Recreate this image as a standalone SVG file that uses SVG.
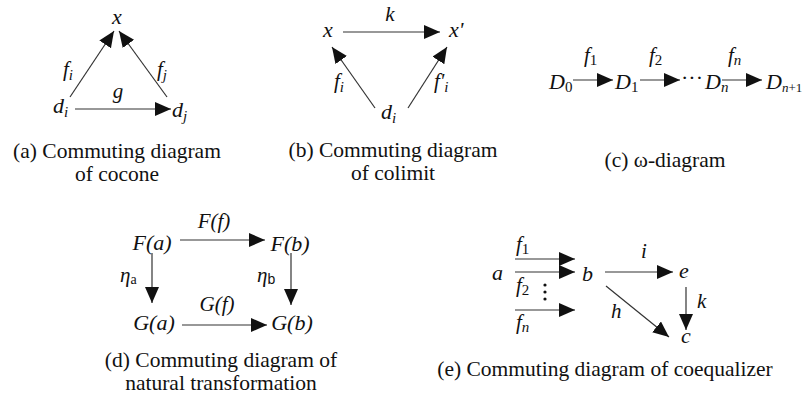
<svg xmlns="http://www.w3.org/2000/svg" width="803" height="394" viewBox="0 0 803 394">
<defs>
<marker id="ah" markerUnits="userSpaceOnUse" markerWidth="17" markerHeight="15" refX="16" refY="7" orient="auto">
<path d="M0,0 L16,7 L0,14 z" fill="#111"/>
</marker>
<style>
.m{font-family:"Liberation Serif","Times New Roman",serif;font-style:italic;font-size:22px;fill:#111}
.l{font-family:"Liberation Serif","Times New Roman",serif;font-style:italic;font-size:21px;fill:#111}
.u{font-style:normal}
.c{text-anchor:middle}
.cap{font-family:"Liberation Serif","Times New Roman",serif;font-size:21.5px;fill:#111;text-anchor:middle}
.a{stroke:#333;stroke-width:1.2;fill:none;marker-end:url(#ah)}
</style>
</defs>
<rect width="803" height="394" fill="#fff"/>

<!-- (a) cocone -->
<g id="a-x"><text class="m c" x="117" y="24">x</text></g>
<g id="a-di"><text class="m" x="53" y="113">d<tspan font-size="15" dy="4">i</tspan></text></g>
<g id="a-dj"><text class="m" x="172" y="117">d<tspan font-size="15" dy="4">j</tspan></text></g>
<g id="a-labels">
<text class="l" x="63" y="76">f<tspan font-size="15" dy="4">i</tspan></text>
<text class="l" x="157" y="76">f<tspan font-size="15" dy="4">j</tspan></text>
<text class="l c" x="118" y="98">g</text>
</g>
<g id="a-caption">
<text class="cap" x="117" y="158">(a) Commuting diagram</text>
<text class="cap" x="117" y="181">of cocone</text>
</g>

<!-- (b) colimit -->
<g id="b-x"><text class="m c" x="328" y="37">x</text></g>
<g id="b-xp"><text class="m" x="449" y="37">x'</text></g>
<g id="b-di"><text class="m" x="381" y="119">d<tspan font-size="15" dy="4">i</tspan></text></g>
<g id="b-labels">
<text class="l c" x="390" y="21">k</text>
<text class="l" x="334" y="88">f<tspan font-size="15" dy="4">i</tspan></text>
<text class="l" x="434" y="88">f<tspan>'</tspan><tspan font-size="15" dy="4">i</tspan></text>
</g>
<g id="b-caption">
<text class="cap" x="393" y="157">(b) Commuting diagram</text>
<text class="cap" x="393" y="180">of colimit</text>
</g>

<!-- (c) omega diagram -->
<g id="c-D0"><text class="m" x="549" y="89">D<tspan class="u" font-size="15" dy="3">0</tspan></text></g>
<g id="c-D1"><text class="m" x="615" y="89">D<tspan class="u" font-size="15" dy="3">1</tspan></text></g>
<g id="c-dots"><text class="m" x="681" y="85" style="font-style:normal">···</text></g>
<g id="c-Dn"><text class="m" x="705" y="89">D<tspan font-size="15" dy="3">n</tspan></text></g>
<g id="c-Dn1"><text class="m" x="766" y="89">D<tspan font-size="13" dy="3">n</tspan><tspan class="u" font-size="13">+1</tspan></text></g>
<g id="c-labels">
<text class="l" x="584" y="62">f<tspan class="u" font-size="15" dy="3">1</tspan></text>
<text class="l" x="649" y="62">f<tspan class="u" font-size="15" dy="3">2</tspan></text>
<text class="l" x="728" y="62">f<tspan font-size="15" dy="3">n</tspan></text>
</g>
<g id="c-caption"><text class="cap" x="665" y="167">(c) ω-diagram</text></g>

<!-- (d) natural transformation -->
<g id="d-Fa"><text class="m c" x="152" y="250">F(a)</text></g>
<g id="d-Fb"><text class="m c" x="290" y="251">F(b)</text></g>
<g id="d-Ga"><text class="m c" x="154" y="330">G(a)</text></g>
<g id="d-Gb"><text class="m c" x="292" y="330">G(b)</text></g>
<g id="d-labels">
<text class="l c" x="214" y="228">F(f)</text>
<text class="l c" x="217" y="311">G(f)</text>
<text class="l" x="120" y="282">η<tspan class="u" font-size="14" dy="2">a</tspan></text>
<text class="l" x="257" y="282">η<tspan class="u" font-size="14" dy="2" font-family="Liberation Sans">b</tspan></text>
</g>
<g id="d-caption">
<text class="cap" x="221" y="367">(d) Commuting diagram of</text>
<text class="cap" x="221" y="390">natural transformation</text>
</g>

<!-- (e) coequalizer -->
<g id="e-a"><text class="m" x="492" y="280">a</text></g>
<g id="e-b"><text class="m" x="582" y="281">b</text></g>
<g id="e-e"><text class="m" x="679" y="278">e</text></g>
<g id="e-c"><text class="m" x="681" y="343">c</text></g>
<g id="e-labels">
<text class="l" x="516" y="251">f<tspan class="u" font-size="15" dy="3">1</tspan></text>
<text class="l" x="516" y="292">f<tspan class="u" font-size="15" dy="3">2</tspan></text>
<text class="l" x="516" y="329">f<tspan font-size="15" dy="3">n</tspan></text>
<text class="l" x="641" y="258">i</text>
<text class="l" x="697" y="308">k</text>
<text class="l" x="611" y="318">h</text>
<circle cx="545" cy="285" r="1.6" fill="#111"/>
<circle cx="545" cy="292" r="1.6" fill="#111"/>
<circle cx="545" cy="299" r="1.6" fill="#111"/>
</g>
<g id="e-caption"><text class="cap" x="605" y="376">(e) Commuting diagram of coequalizer</text></g>

<!-- connectors -->
<g id="connectors">
<line class="a" x1="70" y1="97" x2="114" y2="31"/>
<line class="a" x1="167" y1="97" x2="119" y2="31"/>
<line class="a" x1="75" y1="109" x2="171" y2="109"/>

<line class="a" x1="343" y1="32" x2="440" y2="32"/>
<line class="a" x1="375" y1="108" x2="332" y2="47"/>
<line class="a" x1="408" y1="108" x2="447" y2="47"/>

<line class="a" x1="573" y1="80" x2="613" y2="80"/>
<line class="a" x1="640" y1="80" x2="680" y2="80"/>
<line class="a" x1="722" y1="80" x2="762" y2="80"/>

<line class="a" x1="180" y1="240" x2="265" y2="240"/>
<line class="a" x1="152" y1="253" x2="152" y2="303"/>
<line class="a" x1="291" y1="253" x2="291" y2="305"/>
<line class="a" x1="182" y1="325" x2="267" y2="325"/>

<line class="a" x1="515" y1="259" x2="575" y2="259"/>
<line class="a" x1="515" y1="272" x2="575" y2="272"/>
<line class="a" x1="515" y1="310" x2="575" y2="310"/>
<line class="a" x1="605" y1="272" x2="673" y2="272"/>
<line class="a" x1="686" y1="287" x2="686" y2="330"/>
<line class="a" x1="606" y1="286" x2="669" y2="337"/>
</g>
</svg>
